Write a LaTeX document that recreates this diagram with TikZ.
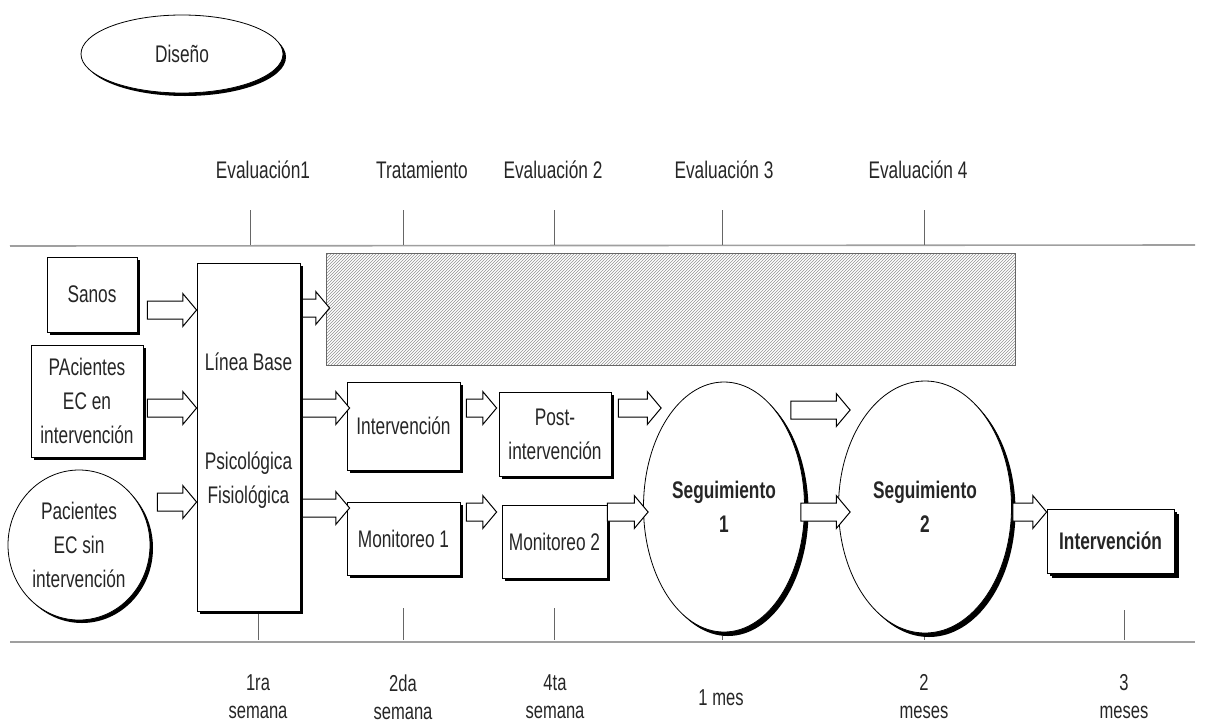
\documentclass[tikz,border=0pt]{standalone}
\usepackage{fontspec}
\setmainfont{Liberation Sans}[FakeStretch=0.72]
\usetikzlibrary{shapes.geometric,shapes.arrows,shadows,patterns,calc}
\newcommand{\lbl}{\fontsize{24}{34}\selectfont}
\newcommand{\lblb}{\fontsize{23}{28}\selectfont}
\tikzset{
  shad/.style={drop shadow={shadow xshift=3pt,shadow yshift=-3pt,opacity=1,fill=black}},
  box/.style={draw,line width=0.8pt,fill=white,inner sep=0pt,align=center,font=\lbl,text=black!85,shad},
  oval/.style={ellipse,draw,line width=0.8pt,fill=white,inner sep=0pt,align=center,font=\lbl,text=black!85,shad},
  txt/.style={inner sep=0pt,align=center,font=\lbl,text=black!85},
  btxt/.style={inner sep=0pt,align=center,font=\lblb,text=black!85},
  axisline/.style={draw=gray!75,line width=1.6pt},
  tick/.style={draw=gray!80!black,line width=0.7pt},
  barrow/.style={single arrow,draw,fill=white,line width=1pt,inner xsep=0pt,inner ysep=8.5pt,
    single arrow head extend=7.5pt,single arrow tip angle=100,minimum width=0pt,outer sep=0pt},
}
\newcommand{\barrow}[5]{%
  \path let \p1=($(#1)+(#2,0)$), \p2=($(#3)+(#4,0)$) in
    node[barrow,minimum height={\x2-\x1},anchor=tail] at (\x1,-#5pt) {};}
\begin{document}
\begin{tikzpicture}[x=1pt,y=-1pt]
\useasboundingbox (0,0) rectangle (1209,726);

% title ellipse
\node[oval,minimum width=202,minimum height=78] (diseno) at (182,54) {Dise\~no};

% top labels
\node[txt] (e1) at (263,170) {Evaluación1};
\node[txt] (tr) at (422,170) {Tratamiento};
\node[txt] (e2) at (553,170) {Evaluación 2};
\node[txt] (e3) at (724,170) {Evaluación 3};
\node[txt] (e4) at (918,170) {Evaluación 4};

% top axis
\draw[axisline] (10,246) -- (1195,245);
\foreach \xx in {250,403,554,722,924} \draw[tick] (\xx,210) -- (\xx,245);

% bottom axis
\draw[axisline] (10,642) -- (1195,642);
\foreach \xx/\ya in {258/605,403/608,554/608,722/607,924/602,1124/610} \draw[tick] (\xx,\ya) -- (\xx,640);

\node[btxt] (b1) at (258,697) {1ra\\semana};
\node[btxt] (b2) at (403,697) {2da\\semana};
\node[btxt] (b3) at (555,697) {4ta\\semana};
\node[btxt] (b4) at (721,698) {1 mes};
\node[btxt] (b5) at (924,697) {2\\meses};
\node[btxt] (b6) at (1124,697) {3\\meses};

% left groups
\node[box,minimum width=90,minimum height=75] (sanos) at (92,294.5) {Sanos};
\node[box,minimum width=112,minimum height=112] (pac1) at (87,401) {PAcientes\\EC en\\intervención};
\node[oval,minimum width=142,minimum height=150] (pac2) at (79,545) {Pacientes\\EC sin\\intervención};

% baseline box
\node[box,minimum width=103,minimum height=348] (linea) at (248.5,437) {};
\node[txt] (lb) at (248.5,362) {Línea Base};
\node[txt] (psf) at (248.5,480) {Psicológica\\Fisiológica};

% hatched
\node[draw=gray!80!black,line width=0.8pt,pattern=north east lines,pattern color=gray!85,
  minimum width=689,minimum height=112,inner sep=0pt] (hatch) at (670.5,309) {};

% middle boxes
\node[box,minimum width=113,minimum height=88] (int1) at (403.5,426) {Intervención};
\node[box,minimum width=112,minimum height=84] (post) at (555,434) {Post-\\intervención};
\node[box,minimum width=113,minimum height=73] (mon1) at (403.5,538.5) {Monitoreo 1};
\node[box,minimum width=105,minimum height=73] (mon2) at (554.5,541.5) {Monitoreo 2};

% follow-up ellipses
\node[oval,minimum width=161,minimum height=250,font=\lbl\bfseries,
  drop shadow={shadow xshift=4pt,shadow yshift=-4pt,opacity=1,fill=black}] (seg1) at (724,507) {Seguimiento\\1};
\node[oval,minimum width=173,minimum height=252,font=\lbl\bfseries,
  drop shadow={shadow xshift=4pt,shadow yshift=-4pt,opacity=1,fill=black}] (seg2) at (925,507) {Seguimiento\\2};

\node[box,minimum width=127,minimum height=64,font=\lbl\bfseries,
  drop shadow={shadow xshift=5pt,shadow yshift=-5pt,opacity=1,fill=black}] (int2) at (1110.5,541) {Intervención};

% block arrows
\barrow{sanos.east}{10}{linea.west}{0}{310}
\barrow{pac1.east}{4}{linea.west}{0}{408}
\barrow{pac2.east}{7}{linea.west}{0}{502}
\barrow{linea.east}{2}{hatch.west}{4}{308}
\barrow{linea.east}{2}{int1.west}{3}{408}
\barrow{linea.east}{2}{mon1.west}{3}{508}
\barrow{int1.east}{6}{post.west}{-2}{408}
\barrow{mon1.east}{6}{mon2.west}{-5}{512}
\barrow{post.east}{7}{seg1.west}{18}{408}
\barrow{mon2.east}{0}{seg1.west}{5}{512}
\barrow{seg1.east}{-14}{seg2.west}{12}{410}
\barrow{seg1.east}{-4}{seg2.west}{12}{512}
\barrow{seg2.east}{1}{int2.west}{0}{512}
\end{tikzpicture}
\end{document}
